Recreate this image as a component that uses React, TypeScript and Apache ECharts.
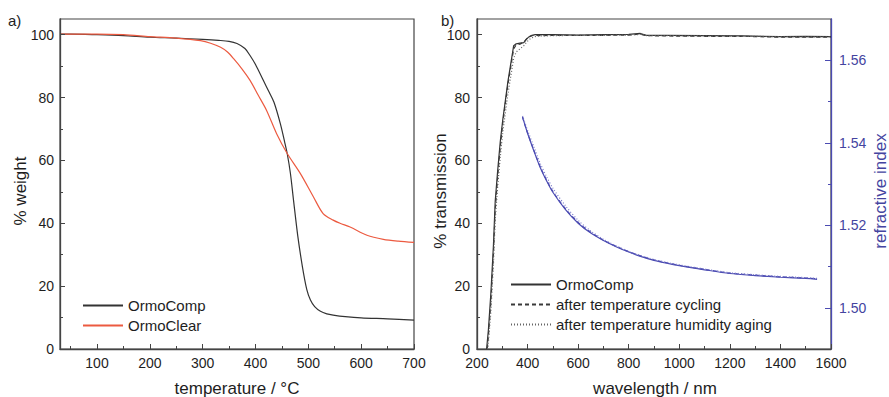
import React, { useEffect, useRef } from "react";
import * as echarts from "echarts";

const FONT = "'Liberation Sans', Arial, Helvetica, sans-serif";

// ---- panel a) TGA ----
const tempComp = [30, 50, 100, 150, 200, 250, 300, 330, 350, 365, 380, 390, 400, 415, 425, 435, 447, 455, 460, 466, 472, 480, 489, 497, 504, 512, 523, 535, 547, 570, 600, 650, 700];
const weightComp = [100.2, 100.2, 100.0, 99.7, 99.2, 98.9, 98.5, 98.2, 97.9, 97.2, 95.6, 93.3, 90.5, 85.4, 82.0, 78.5, 71.7, 66.0, 62.2, 56.0, 47.3, 36.0, 26.0, 19.0, 15.6, 13.5, 12.0, 11.2, 10.8, 10.3, 9.9, 9.6, 9.2];
const tempClear = [30, 50, 100, 150, 200, 250, 296, 315, 334, 347, 359, 375, 390, 405, 421, 440, 460, 485, 510, 528, 547, 560, 579, 611, 642, 670, 700];
const weightClear = [100.2, 100.2, 100.2, 100.0, 99.4, 98.9, 98.1, 97.3, 96.0, 94.5, 92.3, 89.0, 85.4, 80.8, 75.9, 68.5, 62.2, 55.8, 48.3, 43.1, 41.0, 40.0, 38.8, 36.2, 34.9, 34.3, 33.9];

// ---- panel b) transmission ----
const wl = [238, 245, 255, 265, 272, 282, 292, 302, 312, 322, 332, 340, 345, 355, 370, 385, 395, 405, 417, 430, 450, 500, 600, 700, 800, 846, 870, 950, 1100, 1250, 1400, 1500, 1600];
const transComp = [0, 6, 18, 33, 47, 57, 66, 73, 79, 85, 90, 94, 96.5, 97.1, 97.3, 97.5, 98.5, 99.3, 99.8, 100.0, 100.0, 100.0, 99.9, 100.0, 100.1, 100.4, 99.8, 99.8, 99.7, 99.6, 99.4, 99.5, 99.4];
const transCycle = [-2, 4, 15, 30, 44, 55, 64, 72, 78, 84, 89, 93, 95.5, 96.8, 97.0, 97.6, 98.6, 99.3, 99.7, 99.8, 99.7, 99.8, 99.8, 99.8, 99.9, 100.2, 99.7, 99.6, 99.5, 99.5, 99.2, 99.2, 99.2];
const transHumid = [-4, 2, 12, 27, 41, 52, 61, 69, 75, 81, 86, 90, 92.5, 94.5, 95.5, 96.5, 97.5, 98.4, 99.0, 99.4, 99.6, 99.7, 99.8, 99.8, 99.9, 100.1, 99.7, 99.7, 99.6, 99.5, 99.4, 99.3, 99.3];

// ---- panel b) refractive index ----
const wlN = [380, 400, 425, 450, 475, 500, 550, 600, 650, 700, 750, 800, 850, 900, 950, 1000, 1100, 1200, 1300, 1400, 1500, 1545];
const nComp = [1.5463, 1.5423, 1.5380, 1.5340, 1.5308, 1.5280, 1.5238, 1.5205, 1.5181, 1.5163, 1.5148, 1.5135, 1.5124, 1.5115, 1.5108, 1.5102, 1.5092, 1.5083, 1.5078, 1.5074, 1.5071, 1.5069];
const nCycle = [1.5462, 1.5424, 1.5382, 1.5342, 1.5310, 1.5282, 1.5240, 1.5207, 1.5183, 1.5164, 1.5149, 1.5136, 1.5125, 1.5116, 1.5109, 1.5103, 1.5093, 1.5084, 1.5079, 1.5075, 1.5072, 1.5070];
const nHumid = [1.5465, 1.5430, 1.5390, 1.5350, 1.5318, 1.5290, 1.5247, 1.5212, 1.5186, 1.5166, 1.5150, 1.5137, 1.5126, 1.5117, 1.5110, 1.5104, 1.5094, 1.5085, 1.5080, 1.5076, 1.5073, 1.5071];

// ---- ticks ----
const tempMajor = [100, 200, 300, 400, 500, 600, 700];
const tempMinor = [50, 150, 250, 350, 450, 550, 650];
const wlMajor = [200, 400, 600, 800, 1000, 1200, 1400, 1600];
const wlMinor = [300, 500, 700, 900, 1100, 1300, 1500];
const pctMajor = [0, 20, 40, 60, 80, 100];
const pctMinor = [10, 30, 50, 70, 90];
const nMajor = [1.5, 1.52, 1.54, 1.56];
const nMinor = [1.51, 1.53, 1.55];

const TEXT = "#1e1e1e";
const AXIS = "#444";
const BLUE = "#4b4bb2";
const BLUE_TXT = "#44449f";

function zip(xs: number[], ys: number[]) {
  return xs.map((x, i) => [x, ys[i]]);
}

function axis(o: any) {
  const color = o.color || AXIS;
  return {
    type: "value",
    gridIndex: o.grid,
    position: o.position,
    min: o.min,
    max: o.max,
    axisLine: { show: !o.minor, lineStyle: { color, width: 1.3 } },
    axisTick: {
      show: true,
      inside: true,
      length: o.minor ? 3 : o.tickLen || 5,
      customValues: o.ticks,
      lineStyle: { color, width: 1 },
    },
    axisLabel: o.minor
      ? { show: false }
      : {
          show: true,
          customValues: o.ticks,
          margin: o.margin ?? 6,
          fontFamily: FONT,
          fontSize: 14,
          color: o.textColor || TEXT,
          formatter: o.formatter || ((v: number) => String(v)),
        },
    splitLine: { show: false },
    z: 5,
  };
}

function label(text: string, x: number, y: number, vertical: boolean, color = TEXT) {
  return {
    type: "text",
    x,
    y,
    rotation: vertical ? Math.PI / 2 : 0,
    style: { text, x: 0, y: 0, align: "center", verticalAlign: "middle", fontFamily: FONT, fontSize: 17, fill: color },
  };
}

export default function App() {
  const ref = useRef<HTMLDivElement>(null);
  useEffect(() => {
    const chart = echarts.init(ref.current!, null, { renderer: "svg" });
    const legendCommon = {
      orient: "vertical",
      padding: 0,
      itemWidth: 40,
      itemHeight: 14,
      itemGap: 5,
      itemStyle: { opacity: 0, borderWidth: 0 },
      textStyle: { fontFamily: FONT, fontSize: 15, color: TEXT },
    };
    const option: any = {
      animation: false,
      backgroundColor: "#fff",
      textStyle: { fontFamily: FONT },
      grid: [
        { left: 60, top: 19, width: 354, height: 330, show: true, borderColor: AXIS, borderWidth: 1.2, backgroundColor: "transparent" },
        { left: 477, top: 19, width: 354, height: 330, show: true, borderColor: AXIS, borderWidth: 1.2, backgroundColor: "transparent" },
      ],
      xAxis: [
        axis({ grid: 0, position: "bottom", min: 30, max: 700, ticks: tempMajor, margin: 7 }),
        axis({ grid: 0, position: "bottom", min: 30, max: 700, ticks: tempMinor, minor: true }),
        axis({ grid: 1, position: "bottom", min: 200, max: 1600, ticks: wlMajor, margin: 7 }),
        axis({ grid: 1, position: "bottom", min: 200, max: 1600, ticks: wlMinor, minor: true }),
      ],
      yAxis: [
        axis({ grid: 0, position: "left", min: 0, max: 105, ticks: pctMajor }),
        axis({ grid: 0, position: "left", min: 0, max: 105, ticks: pctMinor, minor: true }),
        axis({ grid: 1, position: "left", min: 0, max: 105, ticks: pctMajor, margin: 7 }),
        axis({ grid: 1, position: "left", min: 0, max: 105, ticks: pctMinor, minor: true }),
        axis({
          grid: 1, position: "right", min: 1.49, max: 1.57, ticks: nMajor,
          color: BLUE, textColor: BLUE_TXT, tickLen: 6, margin: 8, formatter: (v: number) => v.toFixed(2),
        }),
        axis({ grid: 1, position: "right", min: 1.49, max: 1.57, ticks: nMinor, minor: true, color: BLUE }),
      ],
      legend: [
        { ...legendCommon, left: 82, top: 298, data: ["OrmoComp", "OrmoClear"] },
        { ...legendCommon, left: 510, top: 277, data: ["OrmoComp", "after temperature cycling", "after temperature humidity aging"] },
      ],
      graphic: [
        { type: "text", left: 8, top: 13, style: { text: "a)", fontFamily: FONT, fontSize: 15, fill: TEXT } },
        { type: "text", left: 441, top: 13, style: { text: "b)", fontFamily: FONT, fontSize: 15, fill: TEXT } },
        label("% weight", 20, 191, true),
        label("% transmission", 440, 191, true),
        label("refractive index", 880, 191, true, BLUE_TXT),
        label("temperature / °C", 237, 388, false),
        label("wavelength / nm", 655, 388, false),
      ],
      series: [
        { type: "line", name: "OrmoComp", xAxisIndex: 0, yAxisIndex: 0, data: zip(tempComp, weightComp), symbol: "none", smooth: 0.3, lineStyle: { color: "#333", width: 1.2 }, itemStyle: { color: "#333" } },
        { type: "line", name: "OrmoClear", xAxisIndex: 0, yAxisIndex: 0, data: zip(tempClear, weightClear), symbol: "none", smooth: 0.3, lineStyle: { color: "#ec5a40", width: 1.2 }, itemStyle: { color: "#ec5a40" } },
        { type: "line", name: "OrmoComp", xAxisIndex: 2, yAxisIndex: 2, data: zip(wl, transComp), symbol: "none", lineStyle: { color: "#333", width: 1.2 }, itemStyle: { color: "#333" } },
        { type: "line", name: "after temperature cycling", xAxisIndex: 2, yAxisIndex: 2, data: zip(wl, transCycle), symbol: "none", lineStyle: { color: "#3a3a3a", width: 1.2, type: [4, 3] }, itemStyle: { color: "#3a3a3a" } },
        { type: "line", name: "after temperature humidity aging", xAxisIndex: 2, yAxisIndex: 2, data: zip(wl, transHumid), symbol: "none", lineStyle: { color: "#666", width: 1.2, type: [1, 2] }, itemStyle: { color: "#666" } },
        { type: "line", name: "n OrmoComp", xAxisIndex: 2, yAxisIndex: 4, data: zip(wlN, nComp), symbol: "none", smooth: 0.3, lineStyle: { color: BLUE, width: 1.2 }, itemStyle: { color: BLUE } },
        { type: "line", name: "n after temperature cycling", xAxisIndex: 2, yAxisIndex: 4, data: zip(wlN, nCycle), symbol: "none", smooth: 0.3, lineStyle: { color: BLUE, width: 1.2, type: [4, 3] }, itemStyle: { color: BLUE } },
        { type: "line", name: "n after temperature humidity aging", xAxisIndex: 2, yAxisIndex: 4, data: zip(wlN, nHumid), symbol: "none", smooth: 0.3, lineStyle: { color: "#7a7ac8", width: 1.2, type: [1, 2] }, itemStyle: { color: "#7a7ac8" } },
      ],
    };
    chart.setOption(option);
    return () => chart.dispose();
  }, []);
  return <div ref={ref} style={{ position: "absolute", left: 0, top: 0, width: 889, height: 397 }} />;
}
